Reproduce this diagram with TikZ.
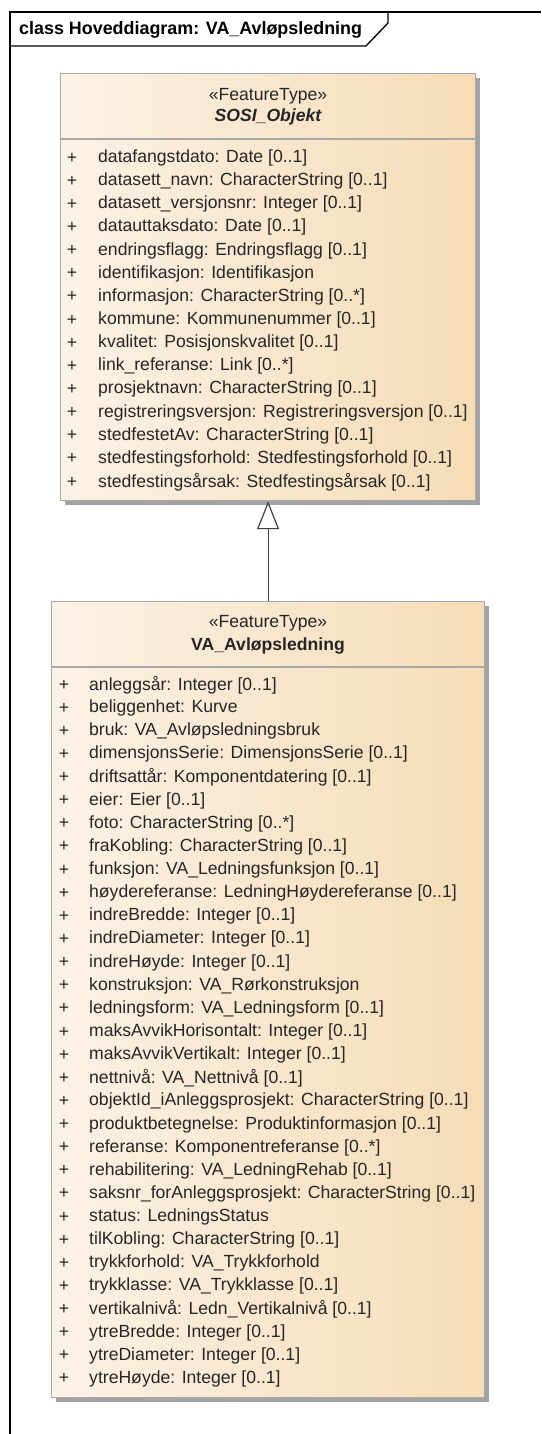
\documentclass[tikz,border=0pt]{standalone}
\usepackage{fontspec}
\setmainfont{Liberation Sans}
\usetikzlibrary{arrows.meta,shadows}
\usepackage{xcolor}

\definecolor{classleft}{HTML}{FBF2E6}
\definecolor{classright}{HTML}{F6DCB6}
\definecolor{classline}{HTML}{A8A8A8}
\definecolor{shadowgray}{HTML}{A2A2A2}
\definecolor{textgray}{HTML}{262626}

\tikzset{
  umlclass/.style={draw=classline,line width=1.2pt,left color=classleft,right color=classright,
    drop shadow={shadow xshift=4.5pt,shadow yshift=-4.5pt,fill=shadowgray,opacity=1},
    inner sep=0pt,anchor=north west},
  sepline/.style={draw=classline,line width=1.2pt},
  attr/.style={anchor=west,inner sep=0pt,text=textgray,font=\fontsize{17.6}{20}\selectfont},
  plus/.style={anchor=center,inner sep=0pt,text=textgray,font=\fontsize{17.6}{20}\selectfont},
  stereo/.style={anchor=center,inner sep=0pt,text=textgray,font=\fontsize{17.6}{20}\selectfont},
  genline/.style={draw=black!75,line width=1.2pt,-{Triangle[open,width=22pt,length=28pt,fill=white]}}
}

\begin{document}
\begin{tikzpicture}[x=1pt,y=-1pt]
			\useasboundingbox (0,0) rectangle (541,1434);
			\draw[line width=1.3pt] (541,12) -- (10,12) -- (10,1434);
			\draw[line width=1.3pt] (10,46) -- (366,46) -- (388,23) -- (388,12);
			\node[anchor=west,inner sep=0pt,font=\fontsize{17.9}{20}\selectfont\bfseries] (title) at (19,30) {class Hoveddiagram: VA\_Avløpsledning};
			\node[umlclass,minimum width=415pt,minimum height=427pt] (sosi) at (60,73) {};
			\node[umlclass,minimum width=433pt,minimum height=796pt] (avlop) at (51,601) {};
			\draw[sepline] (60,139) -- (475,139);
			\draw[sepline] (51,667) -- (484,667);
			\node[stereo] (sosistereo) at (268,96) {«FeatureType»};
			\node[stereo,font=\fontsize{17.6}{20}\selectfont\bfseries\itshape] (sosiname) at (268,117) {SOSI\_Objekt};
			\node[stereo] (avlopstereo) at (268,623) {«FeatureType»};
			\node[stereo,font=\fontsize{17.6}{20}\selectfont\bfseries] (avlopname) at (268,646) {VA\_Avløpsledning};
			\foreach \Attr [count=\i from 0] in {
				{datafangstdato: Date [0..1]},
				{datasett\_navn: CharacterString [0..1]},
				{datasett\_versjonsnr: Integer [0..1]},
				{datauttaksdato: Date [0..1]},
				{endringsflagg: Endringsflagg [0..1]},
				{identifikasjon: Identifikasjon},
				{informasjon: CharacterString [0..*]},
				{kommune: Kommunenummer [0..1]},
				{kvalitet: Posisjonskvalitet [0..1]},
				{link\_referanse: Link [0..*]},
				{prosjektnavn: CharacterString [0..1]},
				{registreringsversjon: Registreringsversjon [0..1]},
				{stedfestetAv: CharacterString [0..1]},
				{stedfestingsforhold: Stedfestingsforhold [0..1]},
				{stedfestingsårsak: Stedfestingsårsak [0..1]}}
			{
				\node[plus] (sosip\i) at (72,158+\i*23.14) {+};
				\node[attr] (sosia\i) at (98,158+\i*23.14) {\Attr};
			}
			\foreach \Attr [count=\i from 0] in {
				{anleggsår: Integer [0..1]},
				{beliggenhet: Kurve},
				{bruk: VA\_Avløpsledningsbruk},
				{dimensjonsSerie: DimensjonsSerie [0..1]},
				{driftsattår: Komponentdatering [0..1]},
				{eier: Eier [0..1]},
				{foto: CharacterString [0..*]},
				{fraKobling: CharacterString [0..1]},
				{funksjon: VA\_Ledningsfunksjon [0..1]},
				{høydereferanse: LedningHøydereferanse [0..1]},
				{indreBredde: Integer [0..1]},
				{indreDiameter: Integer [0..1]},
				{indreHøyde: Integer [0..1]},
				{konstruksjon: VA\_Rørkonstruksjon},
				{ledningsform: VA\_Ledningsform [0..1]},
				{maksAvvikHorisontalt: Integer [0..1]},
				{maksAvvikVertikalt: Integer [0..1]},
				{nettnivå: VA\_Nettnivå [0..1]},
				{objektId\_iAnleggsprosjekt: CharacterString [0..1]},
				{produktbetegnelse: Produktinformasjon [0..1]},
				{referanse: Komponentreferanse [0..*]},
				{rehabilitering: VA\_LedningRehab [0..1]},
				{saksnr\_forAnleggsprosjekt: CharacterString [0..1]},
				{status: LedningsStatus},
				{tilKobling: CharacterString [0..1]},
				{trykkforhold: VA\_Trykkforhold},
				{trykklasse: VA\_Trykklasse [0..1]},
				{vertikalnivå: Ledn\_Vertikalnivå [0..1]},
				{ytreBredde: Integer [0..1]},
				{ytreDiameter: Integer [0..1]},
				{ytreHøyde: Integer [0..1]}}
			{
				\node[plus] (avlopp\i) at (64,685+\i*23.13) {+};
				\node[attr] (avlopa\i) at (89,685+\i*23.13) {\Attr};
			}
			\draw[genline] (avlop.north) -- (sosi.south);
		\end{tikzpicture}
\end{document}
